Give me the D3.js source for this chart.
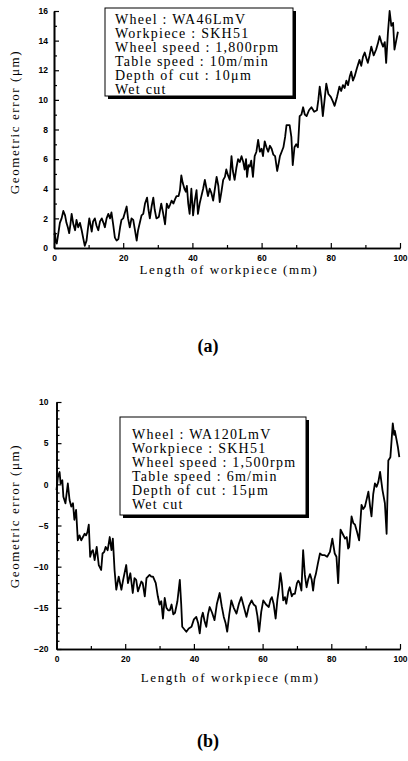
<!DOCTYPE html>
<html><head><meta charset="utf-8">
<script src="https://cdn.jsdelivr.net/npm/d3@7/dist/d3.min.js"></script>
<style>body{margin:0;background:#fff}svg{display:block}</style></head>
<body>
<script>
// ---------- DATA ----------
const xTicks = [0, 20, 40, 60, 80, 100];
const xMinorTicks = [10, 30, 50, 70, 90];

// (a) Wheel WA46LmV
const yTicksA = [0, 2, 4, 6, 8, 10, 12, 14, 16];
const xA = [0,0.3,0.5,0.8,1.2,1.7,2.2,2.7,3.2,3.6,4.0,4.4,4.8,5.1,5.6,6.1,6.5,7.0,7.5,8.0,8.5,8.9,9.4,9.8,10.2,10.6,10.9,11.3,11.8,12.3,12.8,13.3,13.8,14.3,14.7,15.2,15.7,16.2,16.6,17.1,17.6,18.1,18.6,19.1,19.5,20.0,20.5,21.0,21.4,21.9,22.4,22.9,23.4,23.9,24.3,24.8,25.3,25.8,26.3,26.9,27.3,27.7,28.2,28.7,29.1,29.6,30.3,31.0,31.5,32.1,32.6,33.1,33.5,34.0,34.5,35.0,35.4,36.0,36.4,36.8,37.2,37.7,38.1,38.4,38.8,39.2,39.7,40.2,40.7,41.2,41.6,42.1,42.6,43.1,43.6,44.0,44.5,45.0,45.5,46.0,46.5,47.0,47.5,47.9,48.4,48.9,49.4,49.8,50.3,50.8,51.3,51.7,52.2,52.7,53.2,53.7,54.2,54.7,55.1,55.5,55.8,56.2,56.6,57.0,57.5,58.0,58.5,59.0,59.5,60.0,60.4,60.9,61.4,61.9,62.4,62.9,63.4,63.9,64.5,65.0,65.3,65.8,66.3,66.8,67.2,67.7,68.1,68.6,69.0,69.5,70.0,70.5,71.0,71.5,72.0,72.5,73.0,73.7,74.4,75.2,76.0,76.4,76.8,77.2,77.7,78.2,78.7,79.3,80.0,80.6,81.1,81.8,82.5,83.0,83.5,84.0,84.5,85.0,85.5,85.9,86.4,86.9,87.5,88.3,88.8,89.3,89.8,90.3,90.7,91.2,91.7,92.4,93.1,93.6,94.1,94.6,95.1,95.6,96.0,96.5,97.0,97.5,98.0,98.4,98.9,99.4];
const yA = [0.9,1.0,0.4,0.3,0.9,1.7,2.0,2.5,2.2,1.7,1.4,1.0,1.7,2.3,1.6,1.2,1.9,1.4,1.7,1.2,0.6,0.15,0.5,1.3,2.0,1.5,1.1,1.8,2.0,1.5,1.2,1.8,2.0,1.7,1.4,2.0,2.3,2.0,2.4,1.6,0.7,0.5,0.6,1.4,1.9,2.0,2.4,2.8,2.0,1.4,2.0,1.9,1.2,0.5,1.2,1.7,2.2,2.3,3.0,3.4,2.6,2.0,2.8,3.4,2.6,2.0,2.1,3.0,2.4,1.6,3.0,2.7,2.9,3.2,3.0,3.3,3.5,3.5,3.9,4.9,4.4,4.0,3.8,4.2,3.0,2.3,4.0,2.2,3.2,3.9,2.3,3.0,3.5,4.0,4.6,4.1,3.5,4.0,3.7,3.2,4.0,4.8,4.2,3.1,3.8,4.6,4.8,5.3,4.9,4.6,6.2,5.2,4.6,5.4,6.0,5.8,6.2,5.8,5.3,6.0,4.8,5.6,5.5,5.9,4.8,6.2,6.5,7.3,6.5,6.7,6.2,7.2,6.8,6.5,6.9,6.7,6.3,6.2,5.2,5.8,6.2,6.5,6.8,7.5,8.3,8.3,8.3,7.5,5.6,6.8,7.0,6.8,8.9,9.0,9.5,9.0,8.9,9.3,9.5,9.2,9.3,10.0,10.9,10.2,8.9,10.0,11.1,10.4,10.2,9.9,9.6,10.2,10.9,10.6,11.0,10.8,11.3,11.0,11.6,11.9,11.3,11.6,12.1,12.7,12.3,12.9,13.2,12.8,12.5,13.0,13.6,13.0,13.4,13.8,14.3,13.9,13.6,13.9,12.5,14.5,16.0,15.0,15.2,13.4,14.0,14.6];
const infoA = ["Wheel : WA46LmV", "Workpiece : SKH51", "Wheel speed : 1,800rpm", "Table speed : 10m/min", "Depth of cut : 10\u03bcm", "Wet cut"];

// (b) Wheel WA120LmV
const yTicksB = [-20, -15, -10, -5, 0, 5, 10];
const xB = [0.0,0.4,0.9,1.2,1.7,2.0,2.6,3.3,3.8,4.3,4.8,5.2,5.7,6.2,6.7,7.2,7.7,8.2,8.6,9.0,9.4,9.8,10.2,10.6,11.1,11.7,12.3,13.0,13.4,13.9,14.3,14.9,15.5,16.0,16.4,16.9,17.4,18.1,18.9,19.4,20.3,20.8,21.5,22.2,22.7,23.2,23.7,24.2,24.7,25.1,25.7,26.2,27.1,27.6,28.1,28.9,29.5,30.0,30.5,31.0,31.5,32.0,32.5,33.0,33.5,34.0,34.5,35.2,35.9,36.3,36.6,37.2,37.8,38.5,39.3,40.0,40.7,41.2,41.7,42.2,42.6,43.1,43.6,44.1,44.6,45.3,46.0,46.7,47.5,48.1,48.7,49.2,49.7,50.3,50.9,51.6,52.4,53.1,53.8,54.5,55.3,56.0,56.8,57.4,58.0,58.5,59.0,59.6,60.2,61.0,61.8,62.3,62.7,63.2,63.8,64.3,64.8,65.2,65.6,66.0,66.5,66.9,67.5,67.9,68.5,68.9,69.4,70.0,70.4,70.8,71.3,71.8,72.3,72.8,73.3,73.8,74.3,74.7,75.1,75.5,76.1,76.7,77.4,78.1,78.8,79.6,80.3,81.0,81.5,82.0,82.4,82.7,83.3,84.0,84.5,84.9,85.2,85.9,86.4,86.9,87.5,88.1,88.8,89.3,89.8,90.3,90.8,91.3,91.7,92.2,92.7,93.2,93.7,94.2,94.9,95.6,96.1,96.6,97.2,97.9,98.3,98.5,99.0,99.4,99.8];
const yB = [-0.7,0.9,1.5,0.1,0.5,-1.5,-2.3,0.1,-1.9,-2.7,-2.3,-4.3,-3.1,-6.8,-6.2,-6.8,-6.4,-6.0,-6.2,-5.8,-4.9,-8.8,-8.2,-8.0,-9.2,-7.6,-9.8,-10.4,-8.4,-8.2,-7.6,-8.0,-6.4,-8.0,-6.6,-10.4,-12.8,-11.2,-12.8,-11.6,-9.8,-12.0,-10.8,-13.2,-11.4,-11.6,-13.0,-12.4,-11.8,-12.0,-13.6,-11.4,-11.0,-11.2,-11.2,-12.0,-13.6,-14.6,-14.2,-16.3,-13.8,-15.0,-15.3,-15.3,-14.6,-15.8,-15.6,-14.2,-11.6,-14.5,-17.3,-17.6,-17.9,-17.5,-17.3,-16.4,-16.1,-16.8,-18.1,-16.2,-15.6,-16.6,-17.3,-15.8,-14.9,-15.6,-16.5,-14.5,-13.2,-14.8,-16.1,-16.8,-17.9,-15.8,-14.1,-15.0,-15.7,-14.5,-13.7,-14.8,-16.1,-14.8,-14.1,-14.6,-14.8,-16.0,-17.9,-15.5,-14.1,-14.6,-14.9,-14.0,-13.7,-14.5,-16.3,-14.0,-12.5,-10.8,-12.0,-14.1,-13.7,-14.5,-13.0,-12.5,-13.6,-13.3,-13.3,-12.0,-11.7,-12.0,-12.9,-8.0,-11.0,-12.5,-11.5,-10.9,-11.6,-12.9,-11.5,-10.9,-9.6,-8.4,-8.6,-8.6,-8.8,-8.2,-6.6,-8.4,-8.8,-12.0,-8.0,-5.5,-6.0,-6.6,-6.4,-7.8,-7.6,-3.9,-4.7,-4.9,-5.8,-6.8,-2.5,-3.0,-2.7,-1.8,-0.9,-2.7,-3.9,-1.2,0.1,-0.3,0.3,1.5,-0.7,-2.3,-6.0,2.9,3.3,7.4,6.0,6.5,5.4,4.5,3.3];
const infoB = ["Wheel : WA120LmV", "Workpiece : SKH51", "Wheel speed : 1,500rpm", "Table speed : 6m/min", "Depth of cut : 15\u03bcm", "Wet cut"];

const xTitle = "Length of workpiece (mm)";
const yTitle = "Geometric error (\u03bcm)";

// ---------- DRAW ----------
const svg = d3.select("body").append("svg").attr("width", 408).attr("height", 761);
const serif = "'Liberation Serif','Times New Roman',serif";
const sans = "'Liberation Sans',Arial,sans-serif";

function panel(c) {
  const g = svg.append("g");
  const x = d3.scaleLinear().domain([0, 100]).range(c.xr);
  const y = d3.scaleLinear().domain(c.yd).range(c.yr);
  const minorY = d3.range(c.yd[0], c.yd[1] + 0.001, 1).filter(v => !c.yTicks.includes(v));

  // minor ticks
  g.append("g").attr("transform", `translate(${c.xr[0]},0)`)
    .call(d3.axisLeft(y).tickValues(minorY).tickSize(-3).tickSizeOuter(0).tickFormat(""));
  g.append("g").attr("transform", `translate(0,${c.yr[0]})`)
    .call(d3.axisBottom(x).tickValues(xMinorTicks).tickSize(-3).tickSizeOuter(0).tickFormat(""));
  // major
  g.append("g").attr("transform", `translate(${c.xr[0]},0)`)
    .call(d3.axisLeft(y).tickValues(c.yTicks).tickSize(-5).tickSizeOuter(0).tickPadding(c.ypad));
  g.append("g").attr("transform", `translate(0,${c.yr[0]})`)
    .call(d3.axisBottom(x).tickValues(xTicks).tickSize(-5).tickSizeOuter(0).tickPadding(7));
  g.selectAll(".domain").attr("stroke", "#000").attr("stroke-width", 1.6);
  g.selectAll(".tick line").attr("stroke", "#000").attr("stroke-width", 1.2);
  g.selectAll(".tick text").attr("font-family", sans).attr("font-weight", "bold")
    .attr("font-size", 8.5).attr("fill", "#000");

  // line
  const line = d3.line().x((d, i) => x(c.xs[i])).y(d => y(d));
  g.append("path").datum(c.ys).attr("d", line).attr("fill", "none")
    .attr("stroke", "#000").attr("stroke-width", 1.8).attr("stroke-linejoin", "round");

  // titles
  g.append("text").attr("x", (c.xr[0] + c.xr[1]) / 2 + 2).attr("y", c.xty)
    .attr("text-anchor", "middle").attr("font-family", serif).attr("font-size", 13)
    .attr("letter-spacing", 1.6).text(xTitle);
  g.append("text").attr("transform", `translate(${c.ytx},${c.ytc}) rotate(-90)`)
    .attr("text-anchor", "middle").attr("font-family", serif).attr("font-size", 13)
    .attr("letter-spacing", 1.6).text(yTitle);

  // info box
  const b = c.box;
  g.append("rect").attr("x", b.x + 3).attr("y", b.y + 3).attr("width", b.w).attr("height", b.h).attr("fill", "#000");
  g.append("rect").attr("x", b.x).attr("y", b.y).attr("width", b.w).attr("height", b.h)
    .attr("fill", "#fff").attr("stroke", "#000").attr("stroke-width", 1);
  g.append("g").selectAll("text").data(c.info).join("text")
    .attr("x", b.tx).attr("y", (d, i) => b.ty + i * b.dy)
    .attr("font-family", serif).attr("font-size", 14).attr("letter-spacing", 1.25)
    .text(d => d);

  // panel label
  g.append("text").attr("x", 208).attr("y", c.ly).attr("text-anchor", "middle")
    .attr("font-family", serif).attr("font-weight", "bold").attr("font-size", 18).text(c.label);
}

panel({
  xr: [54, 400], yd: [0, 16], yr: [248, 11], yTicks: yTicksA, ypad: 6,
  xs: xA, ys: yA, info: infoA,
  box: {x: 105, y: 8, w: 188, h: 88, tx: 115, ty: 24, dy: 14},
  xty: 274, ytx: 19, ytc: 122, ly: 352, label: "(a)"
});
panel({
  xr: [56.5, 400], yd: [-20, 10], yr: [649, 402], yTicks: yTicksB, ypad: 8,
  xs: xB, ys: yB, info: infoB,
  box: {x: 120, y: 417, w: 186, h: 98, tx: 132, ty: 439, dy: 14},
  xty: 682, ytx: 19, ytc: 516, ly: 747, label: "(b)"
});
</script>
</body></html>
